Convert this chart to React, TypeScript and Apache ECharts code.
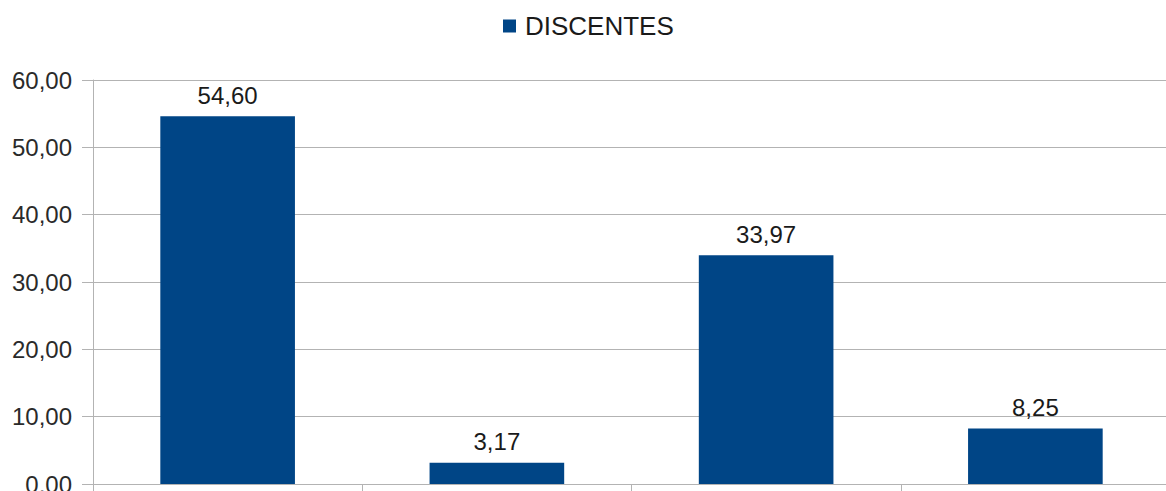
import React, { useEffect, useRef } from "react";
import * as echarts from "echarts";

const categories = ["Categoria 1", "Categoria 2", "Categoria 3", "Categoria 4"];
const seriesName = "DISCENTES";
const discentes = [54.6, 3.17, 33.97, 8.25];
const yTicks = { min: 0, max: 60, interval: 10 };

const fmt = (v: number) => v.toFixed(2).replace(".", ",");

export default function App() {
  const ref = useRef<HTMLDivElement>(null);
  useEffect(() => {
    if (!ref.current) return;
    const chart = echarts.init(ref.current, undefined, { renderer: "svg" });
    const font = "'Liberation Sans', Arial, sans-serif";
    chart.setOption({
      animation: false,
      textStyle: { fontFamily: font },
      legend: {
        data: [seriesName],
        top: 8,
        left: 498,
        icon: "rect",
        itemWidth: 13,
        itemHeight: 13,
        itemGap: 10,
        textStyle: { fontSize: 26, color: "#1a1a1a", fontFamily: font, padding: [0, 0, 0, 4] },
      },
      grid: { left: 93, right: -4, top: 80, bottom: 7, containLabel: false, outerBoundsMode: "none" },
      xAxis: {
        type: "category",
        data: categories,
        boundaryGap: true,
        axisLine: { show: true, lineStyle: { color: "#b3b3b3", width: 1 } },
        axisTick: { show: true, length: 10, lineStyle: { color: "#b3b3b3" } },
        axisLabel: { show: false },
        splitLine: { show: false },
      },
      yAxis: {
        type: "value",
        min: yTicks.min,
        max: yTicks.max,
        interval: yTicks.interval,
        axisLine: { show: true, lineStyle: { color: "#b3b3b3", width: 1 } },
        axisTick: { show: true, length: 11, lineStyle: { color: "#b3b3b3" } },
        axisLabel: {
          formatter: (v: number) => fmt(v),
          fontSize: 24,
          color: "#2a2a2a",
          margin: 21,
          fontFamily: font,
        },
        splitLine: { show: true, lineStyle: { color: "#b3b3b3", width: 1 } },
      },
      series: [
        {
          name: seriesName,
          type: "bar",
          data: discentes,
          barWidth: "50%",
          itemStyle: { color: "#004586" },
          label: {
            show: true,
            position: "top",
            distance: 9,
            formatter: (p: any) => fmt(p.value),
            fontSize: 24,
            color: "#1a1a1a",
            fontFamily: font,
          },
        },
      ],
    });
    return () => chart.dispose();
  }, []);
  return (
    <div
      ref={ref}
      style={{ position: "fixed", left: 0, top: 0, width: 1166, height: 491, background: "#ffffff" }}
    />
  );
}
